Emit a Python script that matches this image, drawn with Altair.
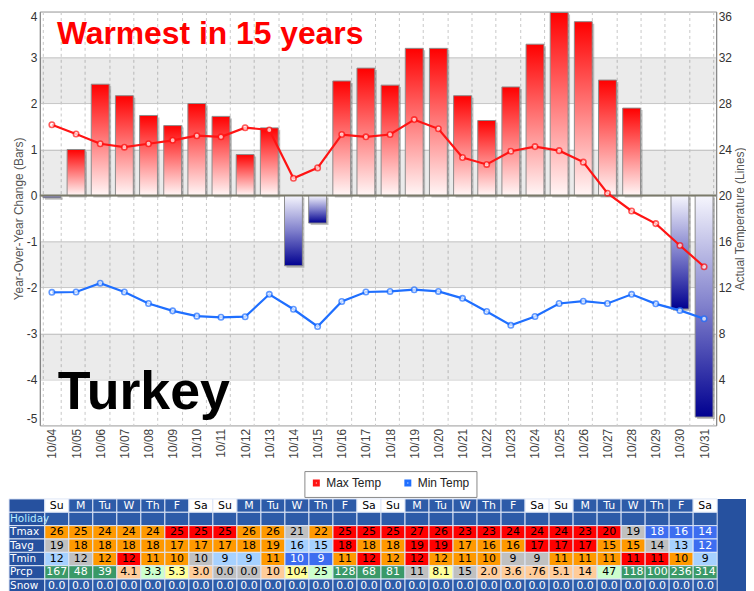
import altair as alt
import pandas as pd

# ---------------- data ----------------
dates = ["10/04", "10/05", "10/06", "10/07", "10/08", "10/09", "10/10", "10/11",
         "10/12", "10/13", "10/14", "10/15", "10/16", "10/17", "10/18", "10/19",
         "10/20", "10/21", "10/22", "10/23", "10/24", "10/25", "10/26", "10/27",
         "10/28", "10/29", "10/30", "10/31"]
yoy_change = [-0.05, 1.0, 2.42, 2.17, 1.74, 1.52, 2.0, 1.72, 0.89, 1.47, -1.53, -0.6,
              2.49, 2.77, 2.4, 3.2, 3.2, 2.17, 1.63, 2.36, 3.29, 3.98, 3.78, 2.51,
              1.9, None, -2.47, -4.82]
max_temp = [26.15, 25.35, 24.5, 24.2, 24.5, 24.8, 25.2, 25.1, 25.9, 25.7, 21.5, 22.4,
            25.3, 25.1, 25.3, 26.6, 25.8, 23.3, 22.7, 23.85, 24.25, 23.9, 22.9, 20.2,
            18.65, 17.55, 15.65, 13.8]
min_temp = [11.57, 11.6, 12.37, 11.6, 10.6, 9.96, 9.5, 9.4, 9.45, 11.4, 10.1, 8.6,
            10.77, 11.6, 11.65, 11.8, 11.65, 11.05, 9.9, 8.7, 9.47, 10.6, 10.8, 10.6,
            11.4, 10.57, 10.0, 9.27]
series_names = ["Max Temp", "Min Temp"]

weekdays = ["Su", "M", "Tu", "W", "Th", "F", "Sa"] * 4
row_labels = ["", "Holiday", "Tmax", "Tavg", "Tmin", "Prcp", "Snow"]
tmax_vals = ["26", "25", "24", "24", "24", "25", "25", "25", "26", "26", "21", "22", "25", "25",
             "25", "27", "26", "23", "23", "24", "24", "24", "23", "20", "19", "18", "16", "14"]
tmax_class = list("WWWWWHHHWWNW" + "H" * 12 + "NKKK")
tavg_vals = ["19", "18", "18", "18", "18", "17", "17", "17", "18", "19", "16", "15", "18", "18",
             "18", "19", "19", "17", "16", "16", "17", "17", "17", "15", "15", "14", "13", "12"]
tavg_class = list("N" + "W" * 9 + "CCHWWHHWWWHHHWWNCK")
tmin_vals = ["12", "12", "12", "12", "11", "10", "10", "9", "9", "11", "10", "9", "11", "12",
             "12", "12", "12", "11", "10", "9", "9", "11", "11", "11", "11", "11", "10", "9"]
tmin_class = list("CNWHWWNCCWKKWHWHWWWNNWWWHHWC")
prcp_vals = ["167", "48", "39", "4.1", "3.3", "5.3", "3.0", "0.0", "0.0", "10", "104", "25", "128", "68",
             "81", "11", "8.1", "15", "2.0", "3.6", ".76", "5.1", "14", "47", "118", "100", "236", "314"]
prcp_class = list("GGGPLYPNNPYLGGGNYNPPPPPLGGGG")
snow_vals = ["0.0"] * 28

# ---------------- styles ----------------
FONT = "Liberation Sans"
PLOT_W, PLOT_H = 680, 416
TABLE_W, TABLE_H = 710, 94

cell_fill = {"W": "#ff9900", "H": "#ff0000", "N": "#c0c0c0", "C": "#a6d1ff", "K": "#3d6df0",
             "G": "#3a9968", "L": "#ccffcc", "Y": "#ffff99", "P": "#ffcc99",
             "label": "#26519f", "weekday": "#2d5ba8", "weekend": "#ffffff", "blank": "#2d5ba8"}
white_text = {"K", "G", "label", "weekday", "blank"}

# ---------------- main chart ----------------
bars_df = pd.DataFrame({"date": dates, "change": yoy_change})
lines_df = pd.DataFrame({
    "date": dates * 2,
    "series": [series_names[0]] * len(dates) + [series_names[1]] * len(dates),
    "temp": max_temp + min_temp,
})
bands_df = pd.DataFrame({"lo": [2, 0, -2, -4], "hi": [3, 1, -1, -3]})
one = pd.DataFrame({"k": [0]})

x_enc = alt.X("date:N", sort=dates,
              scale=alt.Scale(paddingInner=0.26, paddingOuter=0.13),
              axis=alt.Axis(title=None, labelAngle=270, labelPadding=3, ticks=False, domain=False,
                            grid=True, gridDash=[3, 3], gridColor="#c8c8c8", tickBand="extent",
                            labelFontSize=12, labelColor="#444", labelFont=FONT))
yl = alt.Scale(domain=[-5, 4], nice=False, zero=False)
yr = alt.Scale(domain=[0, 36], nice=False, zero=False)
left_axis = alt.Axis(orient="left", values=list(range(-5, 5)), title="Year-Over-Year Change (Bars)",
                     labelExpr="toString(datum.value)", labelFlush=True,
                     titleFontWeight="normal", titleFontSize=12, titleColor="#555", titleFont=FONT,
                     titlePadding=1, labelFontSize=12, labelColor="#333", labelFont=FONT, labelPadding=3,
                     ticks=False, domainColor="#888", grid=True, gridColor="#cfcfcf")
right_axis = alt.Axis(orient="right", values=list(range(0, 37, 4)), title="Actual Temperature (Lines)",
                      labelFlush=True,
                      titleAngle=270, titleBaseline="top", titleFontWeight="normal", titleFontSize=12,
                      titleColor="#555", titleFont=FONT, titlePadding=3, labelFontSize=12,
                      labelColor="#333", labelFont=FONT, labelPadding=2, ticks=False,
                      domainColor="#888", grid=False)

red_grad = alt.LinearGradient(gradient="linear", x1=0, x2=0, y1=0, y2=1,
                              stops=[alt.GradientStop(color="#ff0000", offset=0),
                                     alt.GradientStop(color="#ff4a4a", offset=0.3),
                                     alt.GradientStop(color="#fff6f6", offset=1)])
blue_grad = alt.LinearGradient(gradient="linear", x1=0, x2=0, y1=0, y2=1,
                               stops=[alt.GradientStop(color="#f6f6fd", offset=0),
                                      alt.GradientStop(color="#8080cc", offset=0.5),
                                      alt.GradientStop(color="#000090", offset=1)])

bands = alt.Chart(bands_df).mark_rect(color="black", opacity=0.078).encode(
    y=alt.Y("lo:Q", scale=yl, axis=left_axis), y2="hi:Q")
shadow = alt.Chart(bars_df).transform_filter("isValid(datum.change)").mark_bar(
    color="#666", opacity=0.4, xOffset=2, yOffset=2, y2Offset=2).encode(
    x=x_enc, y=alt.Y("change:Q", scale=yl, axis=left_axis))
pos_bars = alt.Chart(bars_df).transform_filter("datum.change > 0").mark_bar(
    color=red_grad, stroke="#8c8c8c", strokeWidth=1).encode(
    x=x_enc, y=alt.Y("change:Q", scale=yl, axis=left_axis))
neg_bars = alt.Chart(bars_df).transform_filter("datum.change < 0").mark_bar(
    color=blue_grad, stroke="#8c8c8c", strokeWidth=1).encode(
    x=x_enc, y=alt.Y("change:Q", scale=yl, axis=left_axis))
zero_rule = alt.Chart(one).mark_rule(color="#7a7a6a", strokeWidth=2).encode(
    y=alt.YDatum(0, scale=yl, axis=left_axis))
txt_warm = alt.Chart(one).mark_text(text="Warmest in 15 years", align="left", baseline="middle",
                                    font=FONT, fontWeight="bold", fontSize=32, color="#ff0000", dx=5).encode(
    x=alt.XDatum("10/04", type="nominal"), y=alt.YDatum(3.52, scale=yl, axis=left_axis))
txt_country = alt.Chart(one).mark_text(text="Turkey", align="left", baseline="middle",
                                       font=FONT, fontWeight="bold", fontSize=54, color="#000000", dx=6).encode(
    x=alt.XDatum("10/04", type="nominal"), y=alt.YDatum(-4.3, scale=yl, axis=left_axis))

cscale = alt.Scale(domain=series_names, range=["#ff1414", "#1f6fff"])
legend = alt.Legend(title=None, orient="none", legendX=266, legendY=462, direction="horizontal",
                    symbolType="square", symbolSize=16, symbolStrokeWidth=3,
                    labelFont=FONT, labelFontSize=12, labelColor="#222",
                    strokeColor="#888", fillColor="white", padding=6, columnPadding=18, labelOffset=4)
lines = alt.Chart(lines_df).mark_line(strokeWidth=2.2).encode(
    x=x_enc, y=alt.Y("temp:Q", scale=yr, axis=right_axis),
    color=alt.Color("series:N", scale=cscale, legend=legend))
points = alt.Chart(lines_df).mark_point(filled=True, size=30, strokeWidth=1.6).encode(
    x=x_enc, y=alt.Y("temp:Q", scale=yr, axis=right_axis),
    fill=alt.value("white"), stroke=alt.Stroke("series:N", scale=cscale, legend=None))

left_group = alt.layer(bands, shadow, pos_bars, neg_bars, zero_rule, txt_warm, txt_country)
right_group = alt.layer(lines, points)
chart_a = alt.layer(left_group, right_group).resolve_scale(y="independent").properties(
    width=PLOT_W, height=PLOT_H)

# ---------------- table ----------------
LABEL_X0 = -1.49
records = []
for r, name in enumerate(row_labels):
    records.append({"row": r, "c0": LABEL_X0, "c1": 0, "text": name, "kind": "label"})
table_rows = [(tmax_vals, tmax_class), (tavg_vals, tavg_class), (tmin_vals, tmin_class),
              (prcp_vals, prcp_class)]
for c in range(len(dates)):
    records.append({"row": 0, "c0": c, "c1": c + 1, "text": weekdays[c],
                    "kind": "weekend" if weekdays[c] in ("Su", "Sa") else "weekday"})
    records.append({"row": 1, "c0": c, "c1": c + 1, "text": "", "kind": "blank"})
    for r, (vals, cls) in enumerate(table_rows, start=2):
        records.append({"row": r, "c0": c, "c1": c + 1, "text": vals[c], "kind": cls[c]})
    records.append({"row": 6, "c0": c, "c1": c + 1, "text": snow_vals[c], "kind": "blank"})
tdf = pd.DataFrame(records)
tdf["r1"] = tdf["row"] + 1
tdf["ym"] = tdf["row"] + 0.5
tdf["xm"] = (tdf["c0"] + tdf["c1"]) / 2
tdf["fill"] = tdf["kind"].map(cell_fill)
tdf["tcolor"] = ["#ffffff" if k in white_text else "#000000" for k in tdf["kind"]]
tdf.loc[(tdf["kind"] == "label") & (tdf["text"] == "Holiday"), "tcolor"] = "#b8ecff"

tx = alt.Scale(domain=[-0.207, 29.2], nice=False, zero=False)
ty = alt.Scale(domain=[0, 7], nice=False, zero=False, reverse=True)

cells = alt.Chart(tdf).mark_rect(stroke="#dfe7f7", strokeWidth=1).encode(
    x=alt.X("c0:Q", scale=tx, axis=None), x2="c1:Q",
    y=alt.Y("row:Q", scale=ty, axis=None), y2="r1:Q",
    fill=alt.Fill("fill:N", scale=None))
cell_text = alt.Chart(tdf).transform_filter("datum.kind != 'label'").mark_text(
    font="DejaVu Sans", fontSize=11, baseline="middle", align="center").encode(
    x=alt.X("xm:Q", scale=tx, axis=None), y=alt.Y("ym:Q", scale=ty, axis=None),
    text="text:N", color=alt.Color("tcolor:N", scale=None))
label_text = alt.Chart(tdf).transform_filter("datum.kind == 'label'").mark_text(
    font="DejaVu Sans", fontSize=10.5, baseline="middle", align="left", dx=1).encode(
    x=alt.X("c0:Q", scale=tx, axis=None), y=alt.Y("ym:Q", scale=ty, axis=None),
    text="text:N", color=alt.Color("tcolor:N", scale=None))

chart_b = alt.layer(cells, cell_text, label_text).properties(
    width=TABLE_W, height=TABLE_H,
    view=alt.ViewBackground(fill="#26519f", strokeWidth=0))

chart = alt.vconcat(chart_a, chart_b, spacing=0).resolve_scale(
    color="independent", stroke="independent").properties(
    padding=0, background="white").configure(font=FONT).configure_view(stroke="#888")

chart.save("out.html", embed_options={"renderer": "svg", "actions": False})
